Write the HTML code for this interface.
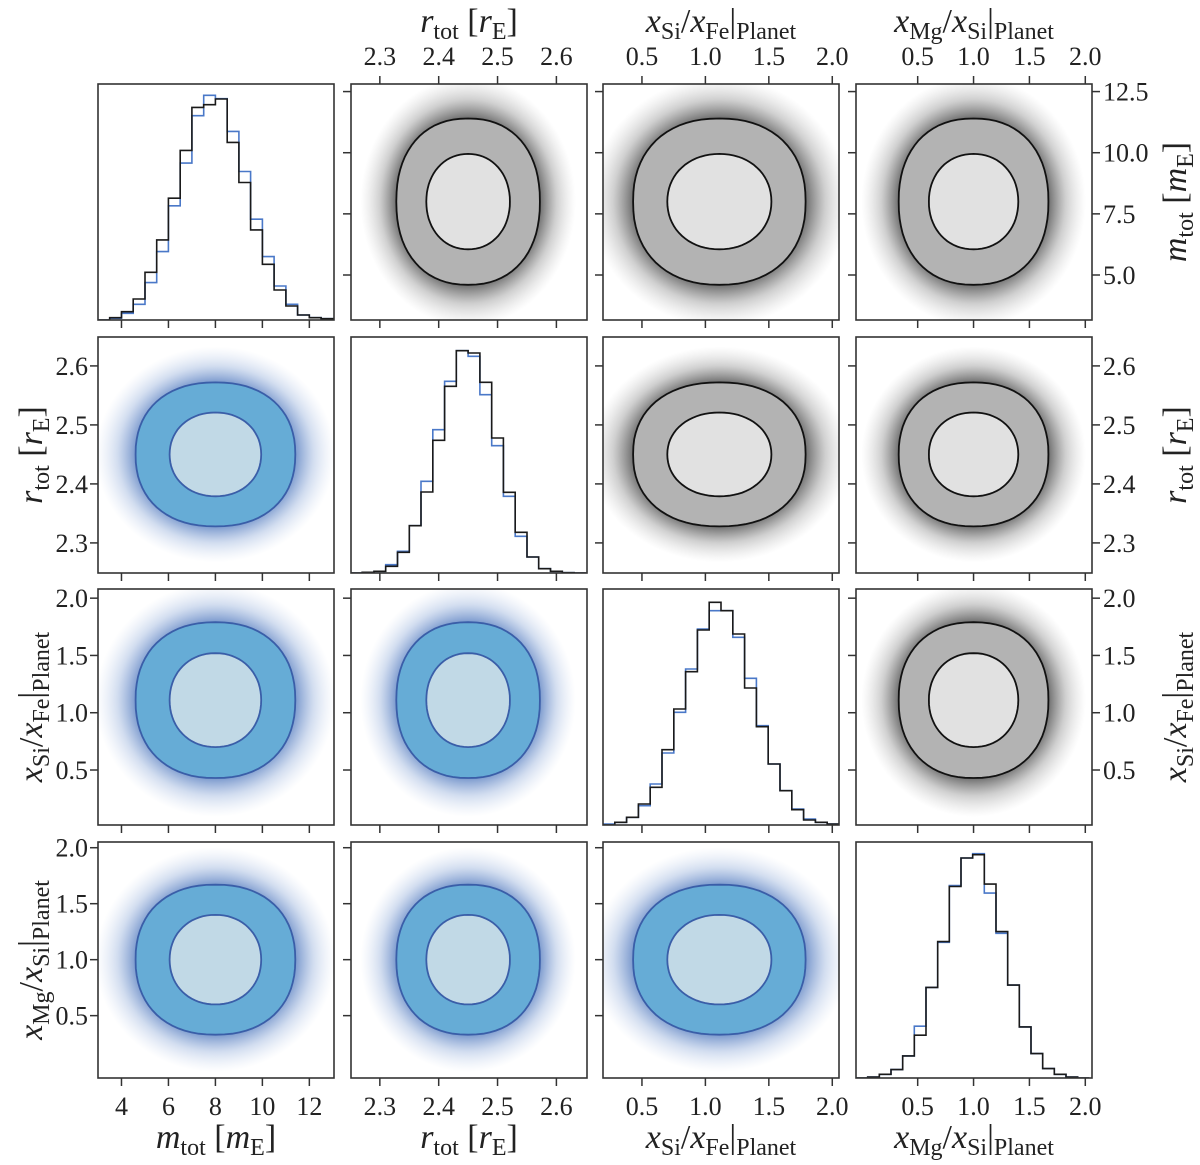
<!DOCTYPE html>
<html><head><meta charset="utf-8">
<style>
html,body{margin:0;padding:0;background:#fff;}
svg{display:block;font-family:"Liberation Serif","DejaVu Serif",serif;}
text{font-family:"Liberation Serif","DejaVu Serif",serif;fill:#222;}
</style></head>
<body>
<svg id="fig" width="1200" height="1165" viewBox="0 0 1200 1165" xmlns="http://www.w3.org/2000/svg" font-family="Liberation Serif, DejaVu Serif, serif">
<defs>
<radialGradient id="haloBlue" cx="50%" cy="50%" r="50%">
<stop offset="0" stop-color="#2f5fb0" stop-opacity="0.75"/>
<stop offset="0.66" stop-color="#3b68b5" stop-opacity="0.7"/>
<stop offset="0.82" stop-color="#6a8fcc" stop-opacity="0.3"/>
<stop offset="1" stop-color="#a8bde3" stop-opacity="0"/>
</radialGradient>
<radialGradient id="haloGray" cx="50%" cy="50%" r="50%">
<stop offset="0" stop-color="#222" stop-opacity="0.75"/>
<stop offset="0.66" stop-color="#2a2a2a" stop-opacity="0.7"/>
<stop offset="0.82" stop-color="#555" stop-opacity="0.28"/>
<stop offset="1" stop-color="#999" stop-opacity="0"/>
</radialGradient>
</defs>
<g id="layer"></g>
</svg>
<script>
// ---- data ----
const varNames = ["m", "r", "si", "mg"];
const xRanges = [[3.0, 13.05], [2.251, 2.652], [0.193, 2.053], [-0.052, 2.06]];
const yRanges = [[3.16, 12.81], [2.249, 2.649], [0.02, 2.08], [-0.057, 2.051]];
const histRanges = [[3.0, 13.0], [2.25, 2.65], [0.193, 2.053], [-0.052, 2.036]];
const histMax = [707, 708, 708, 706];
const xTicks = [[4, 6, 8, 10, 12], [2.3, 2.4, 2.5, 2.6], [0.5, 1.0, 1.5, 2.0], [0.5, 1.0, 1.5, 2.0]];
const xTickLabels = [["4", "6", "8", "10", "12"], ["2.3", "2.4", "2.5", "2.6"], ["0.5", "1.0", "1.5", "2.0"], ["0.5", "1.0", "1.5", "2.0"]];
const yTicks = [[5.0, 7.5, 10.0, 12.5], [2.3, 2.4, 2.5, 2.6], [0.5, 1.0, 1.5, 2.0], [0.5, 1.0, 1.5, 2.0]];
const yTickLabels = [["5.0", "7.5", "10.0", "12.5"], ["2.3", "2.4", "2.5", "2.6"], ["0.5", "1.0", "1.5", "2.0"], ["0.5", "1.0", "1.5", "2.0"]];
const histM_black = [0, 7, 25, 63, 143, 240, 365, 508, 637, 645, 662, 532, 412, 270, 167, 90, 42, 15, 7, 4];
const histM_blue = [0, 5, 20, 47, 112, 205, 342, 470, 612, 673, 663, 565, 445, 302, 190, 102, 47, 15, 7, 4];
const histR_black = [0, 2, 5, 20, 62, 142, 243, 398, 560, 667, 660, 572, 405, 242, 122, 48, 13, 5, 1, 0];
const histR_blue = [0, 2, 5, 25, 65, 142, 275, 430, 575, 667, 650, 535, 382, 230, 110, 48, 13, 5, 1, 0];
const histSi_black = [0, 8, 23, 63, 113, 226, 348, 460, 585, 668, 643, 573, 411, 295, 183, 103, 46, 15, 8, 3];
const histSi_blue = [3, 8, 23, 58, 123, 216, 338, 468, 588, 643, 643, 563, 440, 298, 183, 103, 48, 18, 8, 3];
const histMg_black = [0, 3, 11, 25, 66, 128, 271, 408, 573, 658, 668, 580, 438, 278, 153, 73, 28, 11, 3, 0];
const histMg_blue = [0, 3, 11, 25, 66, 155, 271, 406, 576, 658, 671, 553, 433, 278, 153, 73, 28, 11, 3, 0];
const histBlack = [histM_black, histR_black, histSi_black, histMg_black];
const histBlue = [histM_blue, histR_blue, histSi_blue, histMg_blue];
const means = [8.0, 2.45, 1.11, 1.0];
const innerHW = [1.95, 0.071, 0.41, 0.40];
const outerHW = [3.4, 0.122, 0.68, 0.67];

// ---- layout ----
const PL = [98, 351, 603, 856], PT = [84, 337, 589, 842], PW = 236, PH = 236;
const NS = "http://www.w3.org/2000/svg";
const FONT = "Liberation Serif, DejaVu Serif, serif";
const layer = document.getElementById("layer");
function mk(tag, attrs, parent) {
  const e = document.createElementNS(NS, tag);
  for (const k in attrs) e.setAttribute(k, attrs[k]);
  (parent || layer).appendChild(e);
  return e;
}
function xs(col, v) { const r = xRanges[col]; return PL[col] + (v - r[0]) / (r[1] - r[0]) * PW; }
function ys(row, v) { const r = yRanges[row]; return PT[row] + PH - (v - r[0]) / (r[1] - r[0]) * PH; }

function blob(col, row, hwx, hwy, p) {
  const pts = [];
  for (let k = 0; k < 72; k++) {
    const t = k / 72 * 2 * Math.PI;
    const c = Math.cos(t), s = Math.sin(t);
    const ex = Math.sign(c) * Math.pow(Math.abs(c), 2 / p);
    const ey = Math.sign(s) * Math.pow(Math.abs(s), 2 / p);
    pts.push(xs(col, means[col] + hwx * ex).toFixed(1) + "," + ys(row, means[row] + hwy * ey).toFixed(1));
  }
  return pts.join(" ");
}

for (let row = 0; row < 4; row++) {
  for (let col = 0; col < 4; col++) {
    const g = mk("g", {});
    
    
    const clipId = "c" + row + col;
    const cp = mk("clipPath", { id: clipId }, g);
    mk("rect", { x: PL[col], y: PT[row], width: PW, height: PH }, cp);
    const inner = mk("g", { "clip-path": "url(#" + clipId + ")" }, g);
    if (row === col) {
      const hr = histRanges[col], nb = histBlue[col].length, bw = (hr[1] - hr[0]) / nb;
      const base = PT[row] + PH;
      [[histBlue[col], "#4a78c8"], [histBlack[col], "#1a1a1a"]].forEach(function (pair, si) {
        let d = "";
        pair[0].forEach(function (v, i) {
          const x0 = xs(col, hr[0] + i * bw), x1 = xs(col, hr[0] + (i + 1) * bw);
          const y = base - v / histMax[col] * PH;
          d += (i === 0 ? "M" + x0.toFixed(1) + "," + base : "") + " L" + x0.toFixed(1) + "," + y.toFixed(1) + " L" + x1.toFixed(1) + "," + y.toFixed(1);
        });
        d += " L" + xs(col, hr[1]).toFixed(1) + "," + base;
        const p = mk("path", { d: d, fill: "none", stroke: pair[1], "stroke-width": 1.6 }, inner);
        
        
      });
    } else {
      const lower = row > col;
      const cx = xs(col, means[col]), cy = ys(row, means[row]);
      const rx = Math.abs(xs(col, means[col] + outerHW[col] * 1.5) - cx);
      const ry = Math.abs(ys(row, means[row] + outerHW[row] * 1.5) - cy);
      const h = mk("ellipse", { cx: cx, cy: cy, rx: rx, ry: ry, fill: lower ? "url(#haloBlue)" : "url(#haloGray)" }, inner);
      
      
      const o = mk("polygon", { points: blob(col, row, outerHW[col], outerHW[row], 2.25), fill: lower ? "#66acd6" : "#b3b3b3", stroke: lower ? "#3a5ea8" : "#111", "stroke-width": 1.8 }, inner);
      
      
      const n = mk("polygon", { points: blob(col, row, innerHW[col], innerHW[row], 2.1), fill: lower ? "#c1d9e6" : "#e1e1e1", stroke: lower ? "#3a5ea8" : "#111", "stroke-width": 1.8 }, inner);
      
      
    }
    const frame = mk("rect", { x: PL[col], y: PT[row], width: PW, height: PH, fill: "none", stroke: "#333", "stroke-width": 1.6 }, g);
    
    
    xTicks[col].forEach(function (v) {
      const x = xs(col, v);
      mk("line", { x1: x, x2: x, y1: PT[row] + PH, y2: PT[row] + PH + 8, stroke: "#333", "stroke-width": 1.5 }, g);
    });
    if (row === 0 && col > 0) xTicks[col].forEach(function (v) {
      const x = xs(col, v);
      mk("line", { x1: x, x2: x, y1: PT[row] - 8, y2: PT[row], stroke: "#333", "stroke-width": 1.5 }, g);
    });
    if (row !== col) yTicks[row].forEach(function (v) {
      const y = ys(row, v);
      mk("line", { x1: PL[col] - 8, x2: PL[col], y1: y, y2: y, stroke: "#333", "stroke-width": 1.5 }, g);
    });
    if (col === 3 && row < 3) yTicks[row].forEach(function (v) {
      const y = ys(row, v);
      mk("line", { x1: PL[col] + PW, x2: PL[col] + PW + 8, y1: y, y2: y, stroke: "#333", "stroke-width": 1.5 }, g);
    });
  }
}

function txt(x, y, s, anchor, size, name) {
  const t = mk("text", { x: x, y: y, "text-anchor": anchor, "font-size": size, "font-family": FONT });
  t.textContent = s;
  
  
  return t;
}
for (let col = 0; col < 4; col++) {
  xTicks[col].forEach(function (v, i) {
    txt(xs(col, v), 1115, xTickLabels[col][i], "middle", 26, "x-tick-label");
    if (col > 0) txt(xs(col, v), 65, xTickLabels[col][i], "middle", 26, "top-tick-label");
  });
}
for (let row = 1; row < 4; row++) {
  yTicks[row].forEach(function (v, i) {
    txt(88, ys(row, v) + 9, yTickLabels[row][i], "end", 26, "y-tick-label");
  });
}
for (let row = 0; row < 3; row++) {
  yTicks[row].forEach(function (v, i) {
    txt(1103, ys(row, v) + 9, yTickLabels[row][i], "start", 26, "right-tick-label");
  });
}

function label(parts, x, y, rot, name) {
  const t = mk("text", { x: 0, y: 0, "text-anchor": "middle", "font-size": 34, "font-family": FONT, transform: "translate(" + x + "," + y + ") rotate(" + rot + ")" });
  
  
  parts.forEach(function (p) {
    const s = mk("tspan", { "font-family": FONT }, t);
    s.textContent = p[0];
    if (p[1] === "i") s.setAttribute("font-style", "italic");
    if (p[1] === "sub") { s.setAttribute("font-size", 24); s.setAttribute("dy", 7); }
    if (p[1] === "up") { s.setAttribute("dy", -7); }
  });
}
const mLab = [["m", "i"], ["tot", "sub"], [" [", "up"], ["m", "i"], ["E", "sub"], ["]", "up"]];
const rLab = [["r", "i"], ["tot", "sub"], [" [", "up"], ["r", "i"], ["E", "sub"], ["]", "up"]];
const siLab = [["x", "i"], ["Si", "sub"], ["/", "up"], ["x", "i"], ["Fe", "sub"], ["|", "up"], ["Planet", "sub"]];
const mgLab = [["x", "i"], ["Mg", "sub"], ["/", "up"], ["x", "i"], ["Si", "sub"], ["|", "up"], ["Planet", "sub"]];
const labs = [mLab, rLab, siLab, mgLab];
for (let c = 0; c < 4; c++) label(labs[c], PL[c] + PW / 2, 1148, 0, "x-axis-title-" + varNames[c]);
for (let c = 1; c < 4; c++) label(labs[c], PL[c] + PW / 2, 32, 0, "top-axis-title-" + varNames[c]);
for (let r = 1; r < 4; r++) label(labs[r], 42, PT[r] + PH / 2, -90, "y-axis-title-" + varNames[r]);
for (let r = 0; r < 3; r++) label(labs[r], 1186, PT[r] + PH / 2, -90, "right-axis-title-" + varNames[r]);
</script>
</body></html>
